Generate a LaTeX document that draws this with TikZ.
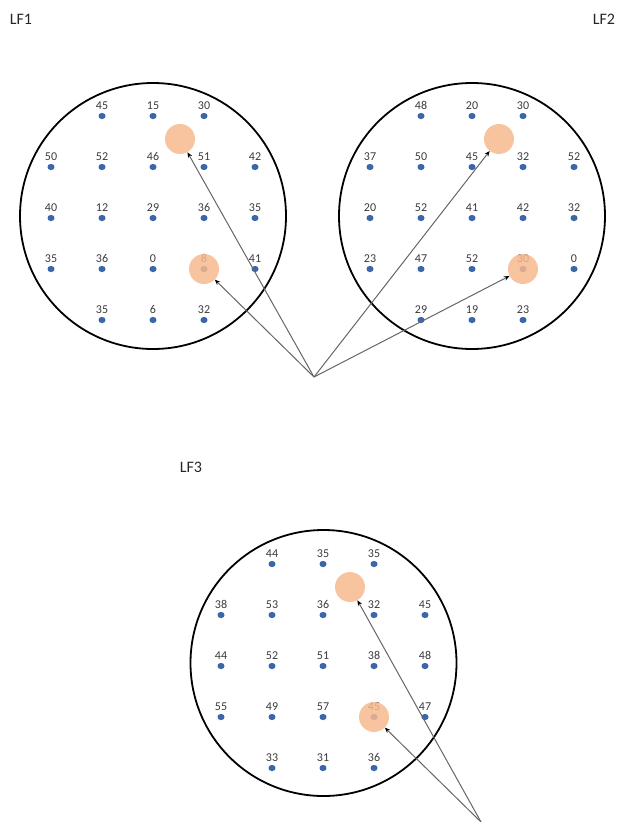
\documentclass[tikz,border=0pt]{standalone}
\usepackage{fontspec}
\setmainfont{Carlito}
\usetikzlibrary{arrows.meta}
\definecolor{dotblue}{HTML}{3B67A8}
\definecolor{hiorange}{HTML}{F7B88E}
\definecolor{lblgray}{HTML}{3A3A3A}
\definecolor{arrgray}{HTML}{666666}
\begin{document}
\begin{tikzpicture}[x=1pt,y=-1pt,
  field/.style={draw=black,line width=1.8pt,circle,minimum size=266pt,inner sep=0pt},
  pt/.style={rectangle,rounded corners=3pt,fill=dotblue,minimum width=7pt,minimum height=6pt,inner sep=0pt,
    label={[lbl]above:#1}},
  lbl/.style={text=lblgray,font=\fontsize{12pt}{13pt}\selectfont,inner sep=0pt,label distance=3.3pt},
  hilite/.style={circle,fill=hiorange,fill opacity=0.85,minimum size=#1,inner sep=0pt},
  arr/.style={draw=arrgray,line width=1pt,-{Stealth[length=5.5pt,width=4.5pt,black]}},
  title/.style={text=black!85,font=\fontsize{16pt}{18pt}\selectfont,inner sep=0pt}
]
\useasboundingbox (0,0) rectangle (620,822);
% titles
\node[title] (t1) at (21,19) {LF1};
\node[title] (t2) at (604,19) {LF2};
\node[title] (t3) at (191,467) {LF3};
% fields
\node[field] (f1) at (153,216) {};
\node[field] (f2) at (472,216) {};
\node[field] (f3) at (323.5,663) {};
% dots LF1
\foreach \c/\r/\t in {2/1/45,3/1/15,4/1/30,
  1/2/50,2/2/52,3/2/46,4/2/51,5/2/42,
  1/3/40,2/3/12,3/3/29,4/3/36,5/3/35,
  1/4/35,2/4/36,3/4/0,4/4/8,5/4/41,
  2/5/35,3/5/6,4/5/32}
  \node[pt=\t] (a-\c-\r) at ({153+(\c-3)*51},{218+(\r-3)*51}) {};
% dots LF2
\foreach \c/\r/\t in {2/1/48,3/1/20,4/1/30,
  1/2/37,2/2/50,3/2/45,4/2/32,5/2/52,
  1/3/20,2/3/52,3/3/41,4/3/42,5/3/32,
  1/4/23,2/4/47,3/4/52,4/4/30,5/4/0,
  2/5/29,3/5/19,4/5/23}
  \node[pt=\t] (b-\c-\r) at ({472+(\c-3)*51},{218+(\r-3)*51}) {};
% dots LF3
\foreach \c/\r/\t in {2/1/44,3/1/35,4/1/35,
  1/2/38,2/2/53,3/2/36,4/2/32,5/2/45,
  1/3/44,2/3/52,3/3/51,4/3/38,5/3/48,
  1/4/55,2/4/49,3/4/57,4/4/45,5/4/47,
  2/5/33,3/5/31,4/5/36}
  \node[pt=\t] (c-\c-\r) at ({323+(\c-3)*51},{666+(\r-3)*51}) {};
% highlights
\node[hilite=30pt] (o1a) at (180,139) {};
\node[hilite=30pt] (o1b) at (a-4-4) {};
\node[hilite=30pt] (o2a) at (499,139) {};
\node[hilite=30pt] (o2b) at (b-4-4) {};
\node[hilite=30pt] (o3a) at (350,587) {};
\node[hilite=30pt] (o3b) at (c-4-4) {};
% sources
\coordinate (s1) at (314,377);
\coordinate (s3) at (481,822);
% arrows
\draw[arr] (s1) -- (o1a);
\draw[arr] (s1) -- (o1b);
\draw[arr] (s1) -- (o2a);
\draw[arr] (s1) -- (o2b);
\draw[arr] (s3) -- (o3a);
\draw[arr] (s3) -- (o3b);
\end{tikzpicture}
\end{document}
